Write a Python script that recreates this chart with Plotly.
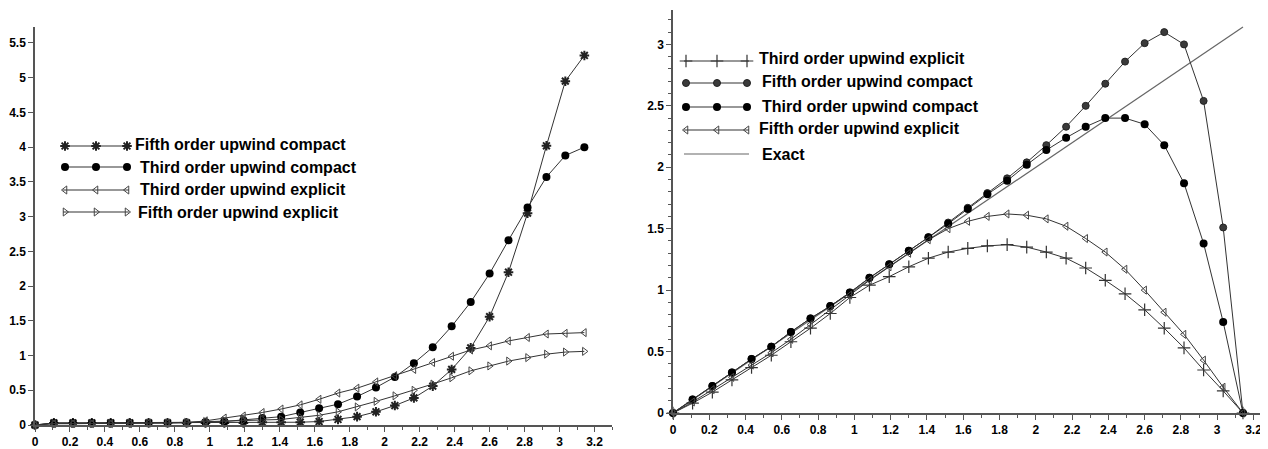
import plotly.graph_objects as go

# ---------------- data ----------------
x_nodes = [0.0, 0.108, 0.217, 0.325, 0.433, 0.542, 0.650, 0.758, 0.867, 0.975,
           1.083, 1.192, 1.300, 1.408, 1.517, 1.625, 1.733, 1.842, 1.950, 2.058,
           2.167, 2.275, 2.383, 2.492, 2.600, 2.708, 2.817, 2.925, 3.033, 3.142]

# left panel
left_fifth_compact = [0.0, 0.03, 0.03, 0.03, 0.03, 0.03, 0.03, 0.03, 0.03, 0.03,
                      0.03, 0.03, 0.04, 0.04, 0.04, 0.05, 0.08, 0.12, 0.19, 0.28,
                      0.39, 0.56, 0.80, 1.11, 1.56, 2.20, 3.05, 4.02, 4.95, 5.32]
left_third_compact = [0.0, 0.03, 0.03, 0.03, 0.03, 0.03, 0.03, 0.03, 0.03, 0.04,
                      0.05, 0.07, 0.10, 0.12, 0.18, 0.24, 0.30, 0.41, 0.54, 0.69,
                      0.89, 1.12, 1.42, 1.77, 2.18, 2.66, 3.13, 3.57, 3.88, 4.00]
left_third_explicit = [0.0, 0.02, 0.02, 0.02, 0.02, 0.02, 0.03, 0.03, 0.03, 0.06,
                       0.10, 0.13, 0.18, 0.23, 0.29, 0.37, 0.46, 0.53, 0.62, 0.71,
                       0.80, 0.90, 0.99, 1.08, 1.14, 1.21, 1.26, 1.31, 1.32, 1.33]
left_fifth_explicit = [0.0, 0.02, 0.02, 0.02, 0.02, 0.03, 0.03, 0.03, 0.04, 0.05,
                       0.06, 0.07, 0.08, 0.08, 0.11, 0.14, 0.19, 0.26, 0.34, 0.42,
                       0.50, 0.59, 0.68, 0.78, 0.85, 0.92, 0.97, 1.02, 1.05, 1.06]

# right panel
right_third_explicit = [0.0, 0.08, 0.17, 0.27, 0.37, 0.47, 0.58, 0.69, 0.81, 0.94,
                        1.04, 1.11, 1.19, 1.26, 1.31, 1.34, 1.36, 1.37, 1.35, 1.31,
                        1.26, 1.18, 1.08, 0.97, 0.84, 0.69, 0.53, 0.35, 0.18, 0.0]
right_fifth_compact = [0.0, 0.11, 0.22, 0.33, 0.44, 0.54, 0.66, 0.77, 0.87, 0.98,
                       1.10, 1.21, 1.32, 1.43, 1.55, 1.67, 1.79, 1.91, 2.04, 2.18,
                       2.33, 2.50, 2.68, 2.86, 3.01, 3.10, 3.00, 2.54, 1.51, 0.0]
right_third_compact = [0.0, 0.11, 0.22, 0.33, 0.44, 0.54, 0.66, 0.77, 0.87, 0.98,
                       1.10, 1.21, 1.32, 1.43, 1.54, 1.66, 1.78, 1.89, 2.02, 2.14,
                       2.24, 2.33, 2.40, 2.40, 2.35, 2.18, 1.87, 1.38, 0.74, 0.0]
right_fifth_explicit = [0.0, 0.09, 0.19, 0.29, 0.39, 0.49, 0.60, 0.72, 0.84, 0.96,
                        1.08, 1.19, 1.30, 1.41, 1.50, 1.56, 1.60, 1.62, 1.61, 1.58,
                        1.52, 1.42, 1.31, 1.17, 1.00, 0.82, 0.64, 0.43, 0.21, 0.0]
exact_x = [0.0, 3.142]
exact_y = [0.0, 3.142]

left_names = ["Fifth order upwind compact", "Third order upwind compact",
              "Third order upwind explicit", "Fifth order upwind explicit"]
right_names = ["Third order upwind explicit", "Fifth order upwind compact",
               "Third order upwind compact", "Fifth order upwind explicit", "Exact"]

# ---------------- styles ----------------
OFF = 8                      # page body margin
W, H = 1268 - OFF, 449 - OFF  # figure size so it ends at the window edge
LINE = "#333333"
FONT = "Liberation Sans, Arial, sans-serif"

def px(xp):
    return (xp - OFF) / W

def py(yp):
    return (449 - yp) / H

sty = {
    "Fifth order upwind compact": dict(symbol="asterisk-open", size=8, color="#222", line=dict(width=2, color="#222")),
    "Third order upwind compact": dict(symbol="circle", size=8, color="#000", line=dict(width=0)),
    "Third order upwind explicit": dict(symbol="triangle-left-open", size=7, color="#444", line=dict(width=1, color="#444")),
    "Fifth order upwind explicit": dict(symbol="triangle-right-open", size=7, color="#444", line=dict(width=1, color="#444")),
}
sty_r = {
    "Third order upwind explicit": dict(symbol="cross-thin-open", size=9, color="#333", line=dict(width=1.2, color="#333")),
    "Fifth order upwind compact": dict(symbol="circle", size=7, color="#3a3a3a", line=dict(width=1, color="#222")),
    "Third order upwind compact": dict(symbol="circle", size=8, color="#000", line=dict(width=0)),
    "Fifth order upwind explicit": dict(symbol="triangle-left-open", size=7, color="#444", line=dict(width=1, color="#444")),
}

fig = go.Figure()

left_series = [left_fifth_compact, left_third_compact, left_third_explicit, left_fifth_explicit]
for name, ys in zip(left_names, left_series):
    fig.add_trace(go.Scatter(x=x_nodes, y=ys, mode="lines+markers", name=name,
                             line=dict(color=LINE, width=1), marker=sty[name],
                             cliponaxis=False, xaxis="x", yaxis="y", showlegend=False))

fig.add_trace(go.Scatter(x=exact_x, y=exact_y, mode="lines", name="Exact",
                         line=dict(color="#666", width=1.2), xaxis="x2", yaxis="y2",
                         showlegend=False))
right_series = [right_third_explicit, right_fifth_compact, right_third_compact, right_fifth_explicit]
for name, ys in zip(right_names[:4], right_series):
    fig.add_trace(go.Scatter(x=x_nodes, y=ys, mode="lines+markers", name=name,
                             line=dict(color=LINE, width=1), marker=sty_r[name],
                             cliponaxis=False, xaxis="x2", yaxis="y2", showlegend=False))

# ---------------- custom legends (pixel overlay) ----------------
annotations = []
def legend_row(y_line, y_text, x0, x1, mx, tx, name, mstyle):
    fig.add_trace(go.Scatter(x=[x0, x1], y=[y_line, y_line], mode="lines",
                             line=dict(color=LINE if mstyle else "#666", width=1.2),
                             xaxis="x3", yaxis="y3", showlegend=False, hoverinfo="skip"))
    if mstyle:
        fig.add_trace(go.Scatter(x=mx, y=[y_line] * len(mx), mode="markers", marker=mstyle,
                                 xaxis="x3", yaxis="y3", showlegend=False, hoverinfo="skip",
                                 cliponaxis=False))
    annotations.append(dict(x=tx, y=y_text, xref="x3", yref="y3", text=name, showarrow=False,
                            xanchor="left", yanchor="middle",
                            font=dict(family=FONT, size=16, color="#000", weight="bold")))

left_rows = [(146, 144, 133), (167, 167, 138), (190, 189, 138), (212, 212, 136)]
for (yl, yt, tx), name in zip(left_rows, left_names):
    legend_row(yl, yt, 63, 129, [65, 96, 127], tx, name, sty[name])

right_rows = [(61, 58, 757), (83, 81, 760), (107, 106, 760), (130, 128, 757), (154, 154, 760)]
for (yl, yt, tx), name in zip(right_rows, right_names):
    legend_row(yl, yt, 684, 749, [686, 717, 747], tx, name, sty_r.get(name))

# ---------------- axes ----------------
tickfont = dict(family=FONT, size=12, color="#000", weight="bold")
common = dict(showgrid=False, zeroline=False, showline=True, linecolor="#555", linewidth=1.5,
              ticks="outside", ticklen=5, tickwidth=1, tickcolor="#555", tickfont=tickfont,
              automargin=False, fixedrange=True)
minor = dict(dtick=0.1, ticks="outside", ticklen=3, tickcolor="#555")

fig.update_layout(
    width=W, height=H,
    margin=dict(l=0, r=0, t=0, b=0),
    paper_bgcolor="white", plot_bgcolor="rgba(0,0,0,0)",
    showlegend=False,
    xaxis=dict(domain=[px(35), px(612)], range=[0, 3.30], tick0=0, dtick=0.2, anchor="y",
               minor=minor, **common),
    yaxis=dict(domain=[py(425), py(27)], range=[0, 5.73], tick0=0, dtick=0.5, anchor="x", **common),
    xaxis2=dict(domain=[px(673), 1.0], range=[0, 3.28], tick0=0, dtick=0.2, anchor="y2",
                minor=minor, **common),
    yaxis2=dict(domain=[py(413), py(10)], range=[0, 3.28], tick0=0, dtick=0.5, anchor="x2",
                minor=minor, **common),
    xaxis3=dict(domain=[0, 1], range=[OFF, 1268], visible=False, fixedrange=True, anchor="y3"),
    yaxis3=dict(domain=[0, 1], range=[449, OFF], visible=False, fixedrange=True, anchor="x3"),
    annotations=annotations,
)

fig.write_html("out.html")
